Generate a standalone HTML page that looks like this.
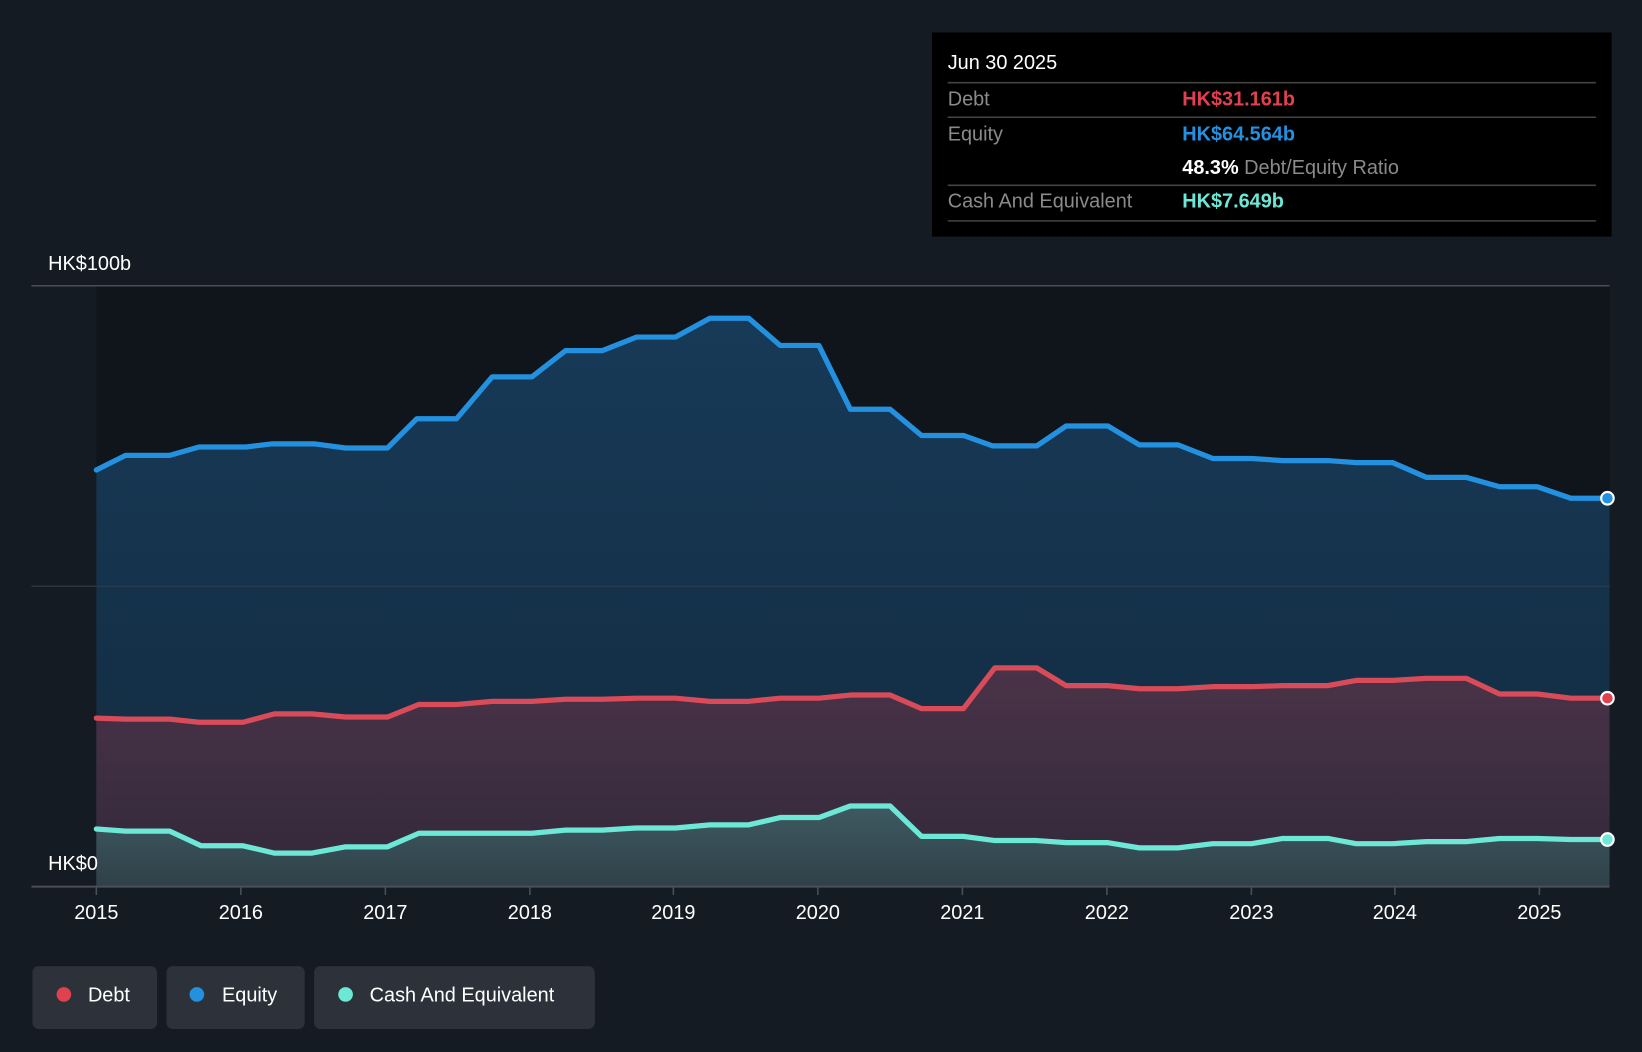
<!DOCTYPE html>
<html><head><style>html,body{margin:0;padding:0;background:#151b23;}svg{display:block}</style></head>
<body>
<svg width="1642" height="1052" viewBox="0 0 1568 1005" preserveAspectRatio="none" xmlns="http://www.w3.org/2000/svg" font-family="Liberation Sans, sans-serif">
<defs>
<linearGradient id="eq" x1="0" y1="0" x2="0" y2="1"><stop offset="0" stop-color="#173a58"/><stop offset="1" stop-color="#132a3e"/></linearGradient>
<linearGradient id="db" x1="0" y1="0" x2="0" y2="1"><stop offset="0" stop-color="#4a3348"/><stop offset="1" stop-color="#32283a"/></linearGradient>
<linearGradient id="ca" x1="0" y1="0" x2="0" y2="1"><stop offset="0" stop-color="#3e5a62"/><stop offset="1" stop-color="#2f4048"/></linearGradient>
</defs>
<rect width="1568" height="1005" fill="#151b23"/>
<rect x="92" y="273" width="1445" height="574" fill="#10141b"/>
<polygon fill="url(#eq)" points="92,449 120,435 162,435 190,427 235,427 260,424 300,424 330,428 370,428 398,400 436,400 470,360 508,360 540,335 575,335 608,322 645,322 678,304 715,304 745,330 782,330 812,391 850,391 880,416 920,416 948,426 990,426 1018,407 1058,407 1088,425 1125,425 1158,438 1195,438 1225,440 1268,440 1295,442 1330,442 1362,456 1400,456 1432,465 1468,465 1500,476 1537,476 1537,847 92,847"/>
<polygon fill="url(#db)" points="92,686 120,687 162,687 190,690 232,690 262,682 298,682 330,685 370,685 400,673 436,673 470,670 508,670 540,668 575,668 608,667 645,667 678,670 715,670 745,667 782,667 812,664 850,664 880,677 920,677 950,638 990,638 1018,655 1058,655 1088,658 1125,658 1158,656 1195,656 1225,655 1268,655 1295,650 1330,650 1362,648 1400,648 1432,663 1468,663 1500,667 1537,667 1537,847 92,847"/>
<polygon fill="url(#ca)" points="92,792 120,794 162,794 192,808 232,808 262,815 298,815 330,809 370,809 400,796 436,796 470,796 508,796 540,793 575,793 608,791 645,791 678,788 715,788 745,781 782,781 812,770 850,770 880,799 920,799 950,803 990,803 1018,805 1058,805 1088,810 1125,810 1158,806 1195,806 1225,801 1268,801 1295,806 1330,806 1362,804 1400,804 1432,801 1468,801 1500,802 1537,802 1537,847 92,847"/>
<line x1="30" y1="273" x2="1537" y2="273" stroke="#4a4f57" stroke-width="1.5"/>
<line x1="30" y1="560" x2="1537" y2="560" stroke="#2e3d4c" stroke-width="1"/>
<g fill="none" stroke-width="5" stroke-linejoin="round" stroke-linecap="round">
<polyline stroke="#2391e0" points="92,449 120,435 162,435 190,427 235,427 260,424 300,424 330,428 370,428 398,400 436,400 470,360 508,360 540,335 575,335 608,322 645,322 678,304 715,304 745,330 782,330 812,391 850,391 880,416 920,416 948,426 990,426 1018,407 1058,407 1088,425 1125,425 1158,438 1195,438 1225,440 1268,440 1295,442 1330,442 1362,456 1400,456 1432,465 1468,465 1500,476 1537,476"/>
<polyline stroke="#d94b58" points="92,686 120,687 162,687 190,690 232,690 262,682 298,682 330,685 370,685 400,673 436,673 470,670 508,670 540,668 575,668 608,667 645,667 678,670 715,670 745,667 782,667 812,664 850,664 880,677 920,677 950,638 990,638 1018,655 1058,655 1088,658 1125,658 1158,656 1195,656 1225,655 1268,655 1295,650 1330,650 1362,648 1400,648 1432,663 1468,663 1500,667 1537,667"/>
<polyline stroke="#6ee8d6" points="92,792 120,794 162,794 192,808 232,808 262,815 298,815 330,809 370,809 400,796 436,796 470,796 508,796 540,793 575,793 608,791 645,791 678,788 715,788 745,781 782,781 812,770 850,770 880,799 920,799 950,803 990,803 1018,805 1058,805 1088,810 1125,810 1158,806 1195,806 1225,801 1268,801 1295,806 1330,806 1362,804 1400,804 1432,801 1468,801 1500,802 1537,802"/>
</g>
<circle cx="1535" cy="476" r="6" fill="#2391e0" stroke="#fff" stroke-width="2"/>
<circle cx="1535" cy="667" r="6" fill="#e0414e" stroke="#fff" stroke-width="2"/>
<circle cx="1535" cy="802" r="6" fill="#6ee8d6" stroke="#fff" stroke-width="2"/>
<line x1="30" y1="847" x2="1537" y2="847" stroke="#4a4f57" stroke-width="2"/>
<g stroke="#4a4f57" stroke-width="1.5">
<line x1="92" y1="847" x2="92" y2="855"/><line x1="230" y1="847" x2="230" y2="855"/><line x1="368" y1="847" x2="368" y2="855"/><line x1="506" y1="847" x2="506" y2="855"/><line x1="643" y1="847" x2="643" y2="855"/><line x1="781" y1="847" x2="781" y2="855"/><line x1="919" y1="847" x2="919" y2="855"/><line x1="1057" y1="847" x2="1057" y2="855"/><line x1="1195" y1="847" x2="1195" y2="855"/><line x1="1332" y1="847" x2="1332" y2="855"/><line x1="1470" y1="847" x2="1470" y2="855"/>
</g>
<g fill="#fff" font-size="19" text-anchor="middle">
<text x="92" y="878">2015</text><text x="230" y="878">2016</text><text x="368" y="878">2017</text><text x="506" y="878">2018</text><text x="643" y="878">2019</text><text x="781" y="878">2020</text><text x="919" y="878">2021</text><text x="1057" y="878">2022</text><text x="1195" y="878">2023</text><text x="1332" y="878">2024</text><text x="1470" y="878">2025</text>
</g>
<text x="46" y="258" fill="#fff" font-size="19">HK$100b</text>
<text x="46" y="831" fill="#fff" font-size="19">HK$0</text>
<rect x="890" y="31" width="649" height="195" fill="#000"/>
<text x="905" y="66" fill="#fff" font-size="19">Jun 30 2025</text>
<g stroke="#444" stroke-width="1.5"><line x1="905" y1="79" x2="1524" y2="79"/><line x1="905" y1="112" x2="1524" y2="112"/><line x1="905" y1="177" x2="1524" y2="177"/><line x1="905" y1="211" x2="1524" y2="211"/></g>
<g font-size="19">
<text x="905" y="101" fill="#8a8a8a">Debt</text><text x="1129" y="101" fill="#e0414e" font-weight="bold">HK$31.161b</text>
<text x="905" y="134" fill="#8a8a8a">Equity</text><text x="1129" y="134" fill="#2391e0" font-weight="bold">HK$64.564b</text>
<text x="1129" y="166" fill="#fff" font-weight="bold">48.3% <tspan fill="#8a8a8a" font-weight="normal">Debt/Equity Ratio</tspan></text>
<text x="905" y="198" fill="#8a8a8a">Cash And Equivalent</text><text x="1129" y="198" fill="#6ee8d6" font-weight="bold">HK$7.649b</text>
</g>
<g font-size="19" fill="#fff">
<rect x="31" y="923" width="119" height="60" rx="6" fill="#2c313a"/><circle cx="61" cy="950" r="7" fill="#e0414e"/><text x="84" y="957">Debt</text>
<rect x="159" y="923" width="132" height="60" rx="6" fill="#2c313a"/><circle cx="188" cy="950" r="7" fill="#2391e0"/><text x="212" y="957">Equity</text>
<rect x="300" y="923" width="268" height="60" rx="6" fill="#2c313a"/><circle cx="330" cy="950" r="7" fill="#6ee8d6"/><text x="353" y="957">Cash And Equivalent</text>
</g>
</svg>
</body></html>
